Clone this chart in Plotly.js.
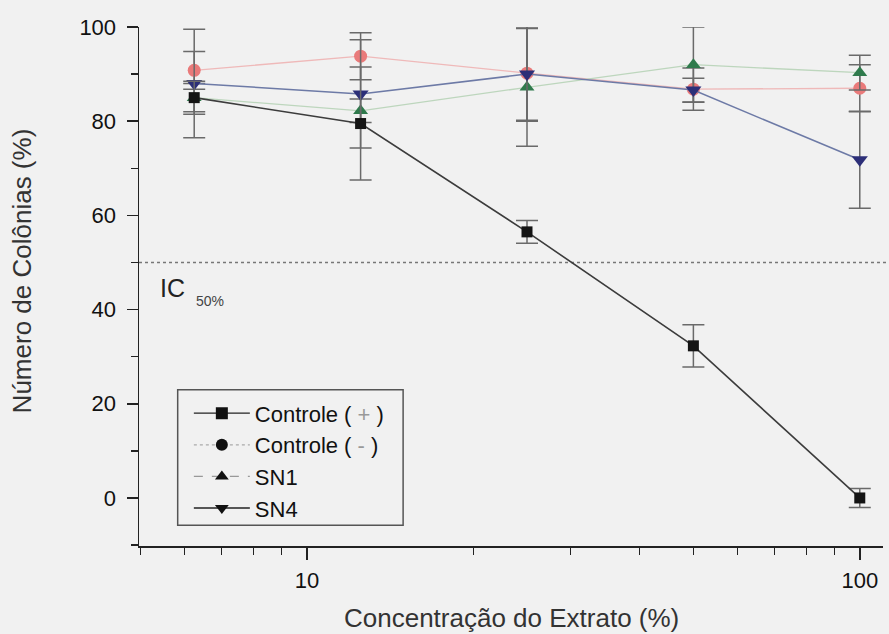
<!DOCTYPE html>
<html><head><meta charset="utf-8">
<script src="https://cdn.plot.ly/plotly-3.0.1.min.js"></script>
<style>html,body{margin:0;padding:0;background:#f1f1f1;}#chart{width:889px;height:634px;}</style>
</head><body><div id="chart"></div>
<script>
const concentrations = [6.25, 12.5, 25, 50, 100];
const controlePos = [85, 79.5, 56.5, 32.3, 0];
const controlePosErr = [3.5, 12, 2.4, 4.5, 2];
const controleNeg = [90.8, 93.8, 90.2, 86.8, 87];
const controleNegErr = [4, 5, 10, 4.5, 5];
const sn1 = [85, 82.2, 87.2, 92, 90.3];
const sn1Err = [3, 2.5, 12.5, 8, 3.7];
const sn4 = [88, 85.8, 90, 86.6, 71.8];
const sn4Err = [11.5, 11.5, 10, 2.5, 10.3];
const seriesNames = ['Controle ( <span style="color:#999">+</span> )', 'Controle ( <span style="color:#999">-</span> )', 'SN1', 'SN4'];
const icLevel = 50;

function err(arr){return {type:'data', array:arr, visible:true, color:'#6a6a6a', thickness:1.5, width:11};}

const dataTraces = [
  {x:concentrations, y:controleNeg, error_y:err(controleNegErr), mode:'lines+markers', cliponaxis:false, line:{color:'#efb9b9', width:1.3}, marker:{symbol:'circle', size:13, color:'#e97a7a'}, showlegend:false},
  {x:concentrations, y:sn1, error_y:err(sn1Err), mode:'lines+markers', cliponaxis:false, line:{color:'#bdd6bd', width:1.3}, marker:{symbol:'triangle-up', size:13, color:'#2f7a4c'}, showlegend:false},
  {x:concentrations, y:sn4, error_y:err(sn4Err), mode:'lines+markers', cliponaxis:false, line:{color:'#6d7aa6', width:1.5}, marker:{symbol:'triangle-down', size:14, color:'#2c2f78'}, showlegend:false},
  {x:concentrations, y:controlePos, error_y:err(controlePosErr), mode:'lines+markers', cliponaxis:false, line:{color:'#3c3c3c', width:1.6}, marker:{symbol:'square', size:11, color:'#141414'}, showlegend:false}
];
const legendStyles = [
  {symbol:'square', dash:'solid', color:'#222'},
  {symbol:'circle', dash:'dot', color:'#aaa'},
  {symbol:'triangle-up', dash:'dash', color:'#999'},
  {symbol:'triangle-down', dash:'solid', color:'#222'}
];
const legendTraces = seriesNames.map((n,i)=>({
  x:[null], y:[null], name:n, mode:'lines+markers', legendgroup:'g'+i,
  line:{color:legendStyles[i].color, width:1.3, dash:legendStyles[i].dash},
  marker:{symbol:legendStyles[i].symbol, size:12, color:'#111'}
}));

const layout = {
  width:889, height:634,
  paper_bgcolor:'#f1f1f1', plot_bgcolor:'#f1f1f1',
  margin:{l:139, r:6, t:27, b:88},
  font:{family:'Liberation Sans, Arial, sans-serif', color:'#1a1a1a'},
  showlegend:true,
  legend:{x:0.067, y:0.296, xanchor:'left', yanchor:'top', bgcolor:'rgba(0,0,0,0)', borderwidth:0, font:{size:22, color:'#111'}, tracegroupgap:3, traceorder:'normal', itemwidth:56},
  xaxis:{type:'log', range:[0.696, 2.042], showline:true, linecolor:'#222', linewidth:1.5, showgrid:false, zeroline:false,
    tickmode:'array', tickvals:[10,100], ticktext:['10','100'], ticks:'outside', ticklen:12, tickwidth:1.5, tickcolor:'#222',
    ticklabelstandoff:2, tickfont:{size:22, color:'#111'},
    minor:{tickmode:'array', tickvals:[5,6,7,8,9,20,30,40,50,60,70,80,90], ticks:'outside', ticklen:7, tickwidth:1.3, tickcolor:'#222', showgrid:false}},
  yaxis:{range:[-10.2, 100], showline:true, linecolor:'#222', linewidth:1.5, showgrid:false, zeroline:false,
    tickmode:'array', tickvals:[0,20,40,60,80,100], ticks:'outside', ticklen:11, tickwidth:1.5, tickcolor:'#222',
    ticklabelstandoff:6, tickfont:{size:22, color:'#111'},
    minor:{tickmode:'array', tickvals:[-10,10,30,50,70,90], ticks:'outside', ticklen:7, tickwidth:1.3, tickcolor:'#222', showgrid:false}},
  shapes:[
    {type:'line', xref:'paper', x0:0, x1:1.01, yref:'y', y0:icLevel, y1:icLevel, line:{color:'#777', width:1.3, dash:'dot'}, layer:'below'},
    {type:'rect', xref:'paper', yref:'paper', x0:0.052, x1:0.355, y0:0.04, y1:0.301, line:{color:'#555', width:1.5}, fillcolor:'rgba(0,0,0,0)'}
  ],
  annotations:[
    {text:'IC', xref:'paper', yref:'y', x:0.026, y:44.6, xanchor:'left', yanchor:'middle', showarrow:false, font:{size:25, color:'#222'}},
    {text:'50%', xref:'paper', yref:'y', x:0.074, y:41.8, xanchor:'left', yanchor:'middle', showarrow:false, font:{size:14, color:'#444'}},
    {text:'Número de Colônias (%)', xref:'paper', yref:'paper', x:-0.158, y:0.53, xanchor:'center', yanchor:'middle', textangle:-90, showarrow:false, font:{size:26, color:'#333'}},
    {text:'Concentração do Extrato (%)', xref:'paper', yref:'paper', x:0.5, y:-0.106, xanchor:'center', yanchor:'top', showarrow:false, font:{size:26, color:'#333'}}
  ]
};
Plotly.newPlot('chart', dataTraces.concat(legendTraces), layout, {displayModeBar:false, staticPlot:true});
</script></body></html>
